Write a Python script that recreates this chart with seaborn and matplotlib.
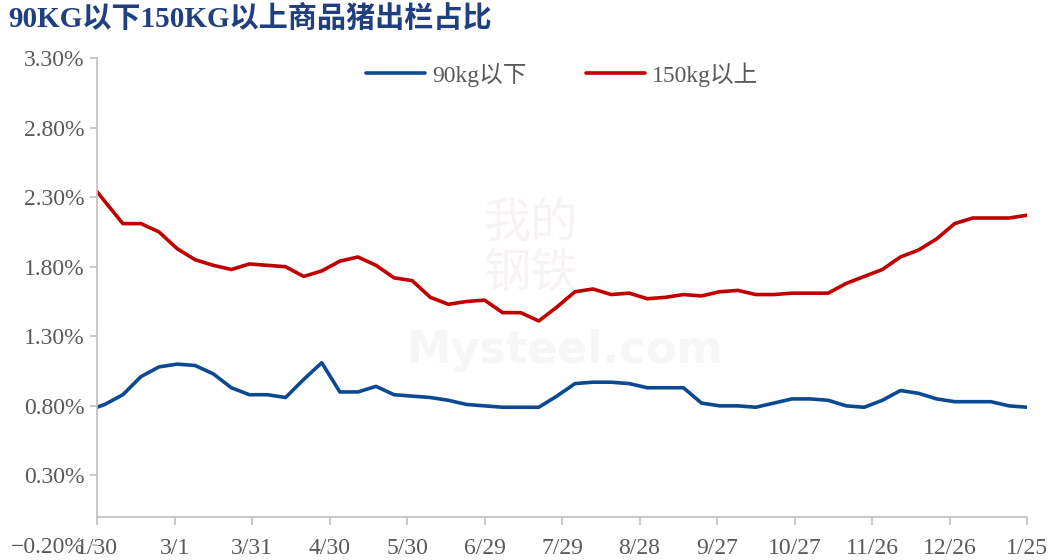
import matplotlib
matplotlib.use("Agg")
import matplotlib.pyplot as plt
import seaborn as sns
import pandas as pd

# === data (percent) ===
dates = [pd.Timestamp("2023-01-30")] + list(pd.date_range("2023-02-02", periods=52, freq="7D"))

below_90 = [0.79, 0.81, 0.88, 1.01, 1.08, 1.10, 1.09, 1.03, 0.93, 0.88,
            0.88, 0.86, 0.99, 1.11, 0.90, 0.90, 0.94, 0.88, 0.87, 0.86,
            0.84, 0.81, 0.80, 0.79, 0.79, 0.79, 0.87, 0.96, 0.97, 0.97,
            0.96, 0.93, 0.93, 0.93, 0.82, 0.80, 0.80, 0.79, 0.82, 0.85,
            0.85, 0.84, 0.80, 0.79, 0.84, 0.91, 0.89, 0.85, 0.83, 0.83,
            0.83, 0.80, 0.79]

above_150 = [2.34, 2.27, 2.11, 2.11, 2.05, 1.93, 1.85, 1.81, 1.78, 1.82,
             1.81, 1.80, 1.73, 1.77, 1.84, 1.87, 1.81, 1.72, 1.70, 1.58,
             1.53, 1.55, 1.56, 1.47, 1.47, 1.41, 1.51, 1.62, 1.64, 1.60,
             1.61, 1.57, 1.58, 1.60, 1.59, 1.62, 1.63, 1.60, 1.60, 1.61,
             1.61, 1.61, 1.68, 1.73, 1.78, 1.87, 1.92, 2.00, 2.11, 2.15,
             2.15, 2.15, 2.17]

series_names = ["90kg以下", "150kg以上"]
series_colors = ["#0b4a92", "#c00000"]
title = "90KG以下150KG以上商品猪出栏占比"
ytick_vals = [-0.2, 0.3, 0.8, 1.3, 1.8, 2.3, 2.8, 3.3]
xtick_dates = list(pd.date_range("2023-01-30", periods=13, freq="30D"))

df = pd.DataFrame({
    "date": dates * 2,
    "value": below_90 + above_150,
    "series": [series_names[0]] * len(dates) + [series_names[1]] * len(dates),
})

sns.set_theme(style="white")
plt.rcParams["font.family"] = ["Liberation Serif", "Noto Sans CJK SC", "DejaVu Sans"]

fig = plt.figure(figsize=(10.51, 5.6), dpi=100)
ax = fig.add_axes([0.0923, 0.0268, 0.8849, 0.8696])

sns.lineplot(data=df, x="date", y="value", hue="series", palette=series_colors,
             linewidth=2.6, ax=ax)

ax.set_xlim(dates[0], dates[-1])
ax.set_ylim(-0.2, 3.3)
ax.set_yticks(ytick_vals)
ax.yaxis.set_major_formatter(matplotlib.ticker.StrMethodFormatter("{x:.2f}%"))
ax.set_xticks(xtick_dates)
ax.set_xticklabels([f"{d.month}/{d.day}" for d in xtick_dates])
ax.set_xlabel("")
ax.set_ylabel("")

grey = "#bfbfbf"
for side in ["top", "right"]:
    ax.spines[side].set_visible(False)
for side in ["left", "bottom"]:
    ax.spines[side].set_color(grey)
    ax.spines[side].set_linewidth(1.2)
ax.spines["bottom"].set_position(("data", 0))
ax.spines["left"].set_bounds(0, 3.3)

ax.tick_params(axis="x", direction="out", length=6, width=1.2, color=grey,
               labelsize=17, labelcolor="#595959", pad=9, bottom=True)
ax.tick_params(axis="y", direction="out", length=5, width=1.2, color=grey,
               labelsize=17, labelcolor="#595959", pad=4, left=True)

ax.legend(loc="upper center", bbox_to_anchor=(0.5, 1.035), ncol=2, frameon=False,
          fontsize=17, labelcolor="#595959", handlelength=2.5, handletextpad=0.3,
          columnspacing=2.5)

# faint watermark
fig.text(0.538, 0.375, "Mysteel.com", fontsize=32, color="#f6f6f6", ha="center",
         va="center", family="DejaVu Sans", fontweight="bold", zorder=0)
fig.text(0.505, 0.555, "我的\n钢铁", fontsize=34, color="#f8f3f3", ha="center",
         va="center", family="Noto Sans CJK SC", linespacing=1.0, zorder=0)

fig.text(0.008, 0.965, title, fontsize=21, fontweight="bold", color="#1f3f7f",
         ha="left", va="center")

fig.savefig("out.png", dpi=100)
